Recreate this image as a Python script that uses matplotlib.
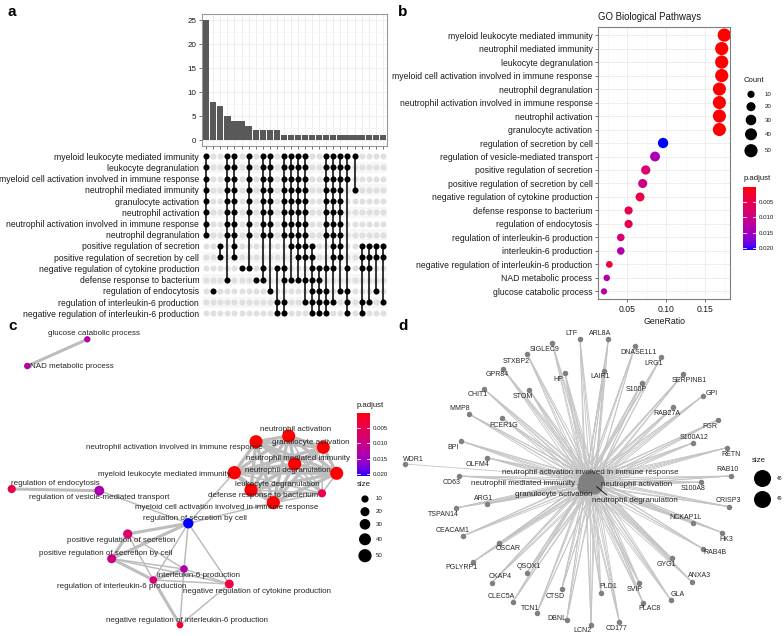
import numpy as np
import matplotlib
matplotlib.use("Agg")
import matplotlib.pyplot as plt
from matplotlib.colors import ListedColormap, Normalize
from matplotlib.collections import LineCollection

plt.rcParams['font.family'] = ['Liberation Sans', 'DejaVu Sans']

W, H = 784, 636
fig = plt.figure(figsize=(W / 100, H / 100), dpi=100)


def box(x0, y0, x1, y1):
    return fig.add_axes([x0 / W, 1 - y1 / H, (x1 - x0) / W, (y1 - y0) / H])


# ---------------- data ----------------
# panel a : upset of gene overlap
upset_terms = ["myeloid leukocyte mediated immunity", "leukocyte degranulation",
               "myeloid cell activation involved in immune response", "neutrophil mediated immunity",
               "granulocyte activation", "neutrophil activation",
               "neutrophil activation involved in immune response", "neutrophil degranulation",
               "positive regulation of secretion", "positive regulation of secretion by cell",
               "negative regulation of cytokine production", "defense response to bacterium",
               "regulation of endocytosis", "regulation of interleukin-6 production",
               "negative regulation of interleukin-6 production"]
inter_size = [25, 8, 7, 5, 4, 4, 3, 2, 2, 2, 2, 1, 1, 1, 1, 1, 1, 1, 1, 1, 1, 1, 1, 1, 1, 1]
IMM = [0, 1, 2, 3, 4, 5, 6, 7]
inter_sets = [IMM, [12], [8, 9], IMM + [11], IMM + [8, 9], [10], IMM + [10], [11],
              IMM + [10, 11], IMM + [12], [10, 13, 14], IMM + [10, 11, 13, 14],
              IMM + [8, 11], IMM + [8, 9, 11], IMM + [8, 9, 11, 13],
              [8, 9, 10, 11, 12, 13, 14], [10, 11, 12, 13, 14], IMM + [10, 12, 13, 14],
              IMM + [8, 9, 10, 13], IMM + [8, 9, 12], [0, 1, 2, 10, 12, 13, 14], [0, 3],
              [8, 9, 10, 13, 14], [8, 9, 10, 13], [8, 9, 12], [8, 9, 13]]

# panel b : dotplot
go_terms = ["myeloid leukocyte mediated immunity", "neutrophil mediated immunity",
            "leukocyte degranulation", "myeloid cell activation involved in immune response",
            "neutrophil degranulation", "neutrophil activation involved in immune response",
            "neutrophil activation", "granulocyte activation", "regulation of secretion by cell",
            "regulation of vesicle-mediated transport", "positive regulation of secretion",
            "positive regulation of secretion by cell", "negative regulation of cytokine production",
            "defense response to bacterium", "regulation of endocytosis",
            "regulation of interleukin-6 production", "interleukin-6 production",
            "negative regulation of interleukin-6 production", "NAD metabolic process",
            "glucose catabolic process"]
gene_ratio = [0.1747, 0.1714, 0.1714, 0.1714, 0.1684, 0.1684, 0.1684, 0.1684, 0.0962, 0.0859,
              0.0740, 0.0701, 0.0667, 0.0520, 0.0520, 0.0420, 0.0420, 0.0273, 0.0240, 0.0205]
go_count = [51, 50, 50, 50, 49, 49, 49, 49, 28, 25, 21, 20, 19, 15, 15, 12, 12, 8, 7, 6]
go_padj = [1e-6, 1e-6, 1e-6, 1e-6, 2e-6, 2e-6, 2e-6, 2e-6, 0.0206, 0.0140, 0.0075, 0.0100,
           0.0040, 0.0050, 0.0045, 0.0085, 0.0135, 0.0030, 0.0130, 0.0130]
count_breaks = [10, 20, 30, 40, 50]
padj_breaks = [0.005, 0.010, 0.015, 0.020]

# panel c : enrichment map layout (node, label)
c_node_x = [234.3, 288.7, 251.0, 273.3, 336.7, 323.3, 256.0, 294.7, 188.3, 99.3,
            127.7, 111.7, 229.3, 322.0, 11.7, 153.3, 184.0, 180.0, 27.3, 87.3]
c_node_y = [472.7, 436.0, 490.0, 502.7, 473.3, 447.3, 441.7, 464.0, 523.3, 490.7,
            534.0, 558.7, 584.0, 493.3, 489.0, 580.0, 569.0, 625.0, 366.0, 339.3]
c_node_term = ["myeloid leukocyte mediated immunity", "neutrophil activation",
               "leukocyte degranulation", "myeloid cell activation involved in immune response",
               "neutrophil degranulation", "granulocyte activation",
               "neutrophil activation involved in immune response", "neutrophil mediated immunity",
               "regulation of secretion by cell", "regulation of vesicle-mediated transport",
               "positive regulation of secretion", "positive regulation of secretion by cell",
               "negative regulation of cytokine production", "defense response to bacterium",
               "regulation of endocytosis", "regulation of interleukin-6 production",
               "interleukin-6 production", "negative regulation of interleukin-6 production",
               "NAD metabolic process", "glucose catabolic process"]
c_lab_x = [164.2, 295.2, 277.5, 227.0, 287.5, 310.8, 174.7, 297.5, 195.0, 98.7,
           120.8, 106.0, 256.8, 263.3, 55.8, 121.7, 198.3, 187.2, 72.3, 93.8]
c_lab_y = [474.0, 429.3, 484.0, 507.3, 471.0, 442.7, 447.7, 458.3, 518.3, 497.3,
           540.0, 553.7, 591.7, 495.3, 483.3, 586.0, 575.7, 620.0, 366.7, 333.3]
# edges: (node i, node j, thick)
c_edges = [(18, 19, 1), (14, 9, 1), (9, 8, 0), (8, 0, 0), (8, 3, 0), (8, 10, 1), (8, 11, 1),
           (8, 12, 0), (8, 16, 0), (8, 15, 0), (10, 11, 1), (10, 15, 0), (10, 16, 0),
           (11, 15, 1), (11, 16, 0), (11, 12, 0), (15, 16, 1), (15, 12, 0), (15, 17, 1),
           (16, 17, 0), (16, 12, 0), (12, 17, 0)]

# panel d : gene-concept network
d_terms = ["neutrophil activation involved in immune response", "neutrophil mediated immunity",
           "neutrophil activation", "granulocyte activation", "neutrophil degranulation"]
d_term_size = [49, 49, 48, 49, 49]
d_term_x = [590.0, 586.0, 596.0, 585.0, 594.0]
d_term_y = [478.0, 481.0, 481.0, 486.0, 486.0]
d_term_lx = [590.0, 523.3, 636.7, 553.3, 635.0]
d_term_ly = [472.7, 483.3, 484.3, 494.3, 500.7]
d_genes = ["LTF", "ARL8A", "SIGLEC9", "DNASE1L1", "LRG1", "STXBP2", "HP", "LAIR1", "GPR84",
           "SERPINB1", "S100P", "CHIT1", "STOM", "GPI", "MMP8", "RAB27A", "FCER1G", "FGR",
           "S100A12", "BPI", "RETN", "OLFM4", "WDR1", "RAB10", "CD63", "S100A8", "CRISP3",
           "ARG1", "TSPAN14", "NCKAP1L", "CEACAM1", "HK3", "OSCAR", "RAB4B", "GYG1", "PGLYRP1",
           "QSOX1", "ANXA3", "CKAP4", "CTSD", "PLD1", "SVIP", "GLA", "CLEC5A", "TCN1", "PLAC8",
           "DBNL", "CD177", "LCN2"]
d_gx = [580.0, 608.3, 552.3, 635.0, 661.0, 527.3, 565.0, 604.0, 503.3, 683.3, 641.7, 484.3,
        529.3, 702.7, 469.0, 673.3, 502.3, 717.7, 693.3, 461.0, 726.7, 487.3, 405.0, 731.0,
        459.3, 700.7, 729.0, 486.7, 455.7, 692.7, 462.7, 722.3, 499.3, 703.3, 671.7, 473.3,
        526.7, 691.7, 491.7, 561.7, 601.0, 639.3, 670.7, 512.7, 536.7, 643.3, 566.7, 619.3,
        591.0]
d_gy = [339.3, 339.3, 343.3, 346.0, 357.3, 354.3, 373.3, 371.0, 369.3, 374.3, 382.7, 389.3,
        390.0, 396.0, 414.0, 407.3, 418.3, 420.0, 442.7, 441.0, 447.7, 457.7, 464.0, 476.0,
        476.0, 482.3, 506.7, 504.0, 508.0, 523.3, 536.0, 532.7, 543.3, 549.0, 558.3, 561.7,
        572.7, 581.7, 582.7, 589.3, 593.3, 582.7, 600.0, 602.0, 613.3, 603.3, 620.0, 621.7,
        625.0]
d_lx = [571.7, 600.0, 545.0, 638.3, 653.3, 516.0, 558.3, 600.0, 496.7, 689.0, 636.0, 477.3,
        523.3, 711.7, 459.3, 666.7, 503.3, 710.0, 694.0, 453.3, 731.0, 477.3, 413.3, 727.7,
        451.7, 693.3, 728.3, 483.3, 443.3, 686.0, 452.7, 726.7, 508.3, 715.0, 666.7, 461.7,
        528.3, 700.0, 500.0, 555.0, 608.3, 634.3, 677.3, 501.7, 530.0, 650.0, 556.7, 616.7,
        582.7]
d_ly = [333.3, 333.3, 349.3, 352.7, 363.3, 361.7, 379.3, 376.7, 375.0, 380.7, 389.3, 395.0,
        396.7, 393.3, 408.3, 413.3, 425.7, 426.0, 437.3, 447.3, 454.3, 464.0, 459.3, 469.3,
        482.7, 489.0, 500.0, 498.3, 514.0, 517.3, 531.0, 539.3, 549.0, 552.7, 564.3, 567.7,
        566.7, 575.7, 576.7, 596.0, 586.7, 589.3, 594.3, 596.0, 608.3, 609.0, 618.3, 628.3,
        630.0]
d_size_breaks = [48, 49]


# ---------------- colour scale (red -> blue, Lab interpolation) ----------------
M = np.array([[0.4124, 0.3576, 0.1805], [0.2126, 0.7152, 0.0722], [0.0193, 0.1192, 0.9505]])
WHITE = np.array([0.95047, 1.0, 1.08883])


def to_lab(rgb):
    rgb = np.asarray(rgb, float)
    lin = np.where(rgb > 0.04045, ((rgb + 0.055) / 1.055) ** 2.4, rgb / 12.92)
    xyz = M @ lin / WHITE
    f = np.where(xyz > 0.008856, np.cbrt(xyz), 7.787 * xyz + 16 / 116)
    return np.array([116 * f[1] - 16, 500 * (f[0] - f[1]), 200 * (f[1] - f[2])])


def from_lab(lab):
    fy = (lab[0] + 16) / 116
    f = np.array([fy + lab[1] / 500, fy, fy - lab[2] / 200])
    xyz = np.where(f ** 3 > 0.008856, f ** 3, (f - 16 / 116) / 7.787) * WHITE
    lin = np.clip(np.linalg.solve(M, xyz), 0, 1)
    rgb = np.where(lin > 0.0031308, 1.055 * lin ** (1 / 2.4) - 0.055, 12.92 * lin)
    return np.clip(rgb, 0, 1)


lab_r, lab_b = to_lab([1, 0, 0]), to_lab([0, 0, 1])
cmap = ListedColormap([from_lab(lab_r + t * (lab_b - lab_r)) for t in np.linspace(0, 1, 256)])
norm = Normalize(vmin=min(go_padj), vmax=max(go_padj))
padj_of = dict(zip(go_terms, go_padj))
count_of = dict(zip(go_terms, go_count))


def size_pts(c):
    # marker area (pt^2) from count; diameter^2 in px is linear in count
    return 0.72 ** 2 * (3.05 * np.asarray(c, float) + 21.4)


TXT = '#1a1a1a'
FS = 6.2

# ---------------- panel a ----------------
ncol = len(inter_size)
axb = box(202, 14, 387, 146)
axb.bar(np.arange(ncol), inter_size, width=0.88, color='#595959', zorder=3)
axb.set_xlim(-0.6, ncol - 0.4)
axb.set_ylim(-1.25, 26.25)
axb.set_yticks([0, 5, 10, 15, 20, 25])
axb.set_yticks([2.5, 7.5, 12.5, 17.5, 22.5], minor=True)
axb.set_xticks(np.arange(ncol))
axb.set_xticklabels([])
axb.grid(which='major', color='#ebebeb', lw=0.6, zorder=0)
axb.grid(which='minor', axis='y', color='#f4f4f4', lw=0.4, zorder=0)
axb.tick_params(axis='both', which='major', length=2.5, width=0.5, color='#333333',
                labelsize=5.8, labelcolor=TXT, pad=1.5)
axb.tick_params(which='minor', length=0)
for s in axb.spines.values():
    s.set_color('#999999')
    s.set_linewidth(0.8)

axm = box(202, 150.5, 387, 319)
nrow = len(upset_terms)
for r in range(1, nrow, 2):
    axm.axhspan(r - 0.5, r + 0.5, color='#f7f7f7', lw=0, zorder=0)
gx, gy = np.meshgrid(np.arange(ncol), np.arange(nrow))
axm.scatter(gx.ravel(), gy.ravel(), s=19, color='#e0e0e0', lw=0, zorder=1)
for i, rows in enumerate(inter_sets):
    axm.plot([i, i], [min(rows), max(rows)], color='black', lw=1.1, zorder=2)
    axm.scatter([i] * len(rows), rows, s=19, color='black', lw=0, zorder=3)
axm.set_xlim(-0.6, ncol - 0.4)
axm.set_ylim(nrow - 0.5, -0.5)
axm.set_yticks(np.arange(nrow))
axm.set_yticklabels(upset_terms, fontsize=FS, color=TXT)
axm.set_xticks([])
axm.tick_params(axis='y', length=0, pad=2)
for s in axm.spines.values():
    s.set_visible(False)

# ---------------- panel b ----------------
axd = box(598, 27, 730, 299.5)
yb = np.arange(len(go_terms))
axd.scatter(gene_ratio, yb, s=size_pts(go_count), c=go_padj, cmap=cmap, norm=norm, lw=0, zorder=3)
axd.set_xlim(0.0128, 0.182)
axd.set_ylim(len(go_terms) - 0.4, -0.6)
axd.set_yticks(yb)
axd.set_yticklabels(go_terms, fontsize=FS, color=TXT)
axd.set_xticks([0.05, 0.10, 0.15])
axd.set_xticklabels(['0.05', '0.10', '0.15'])
axd.set_xticks([0.025, 0.075, 0.125, 0.175], minor=True)
axd.grid(which='major', color='#ebebeb', lw=0.6, zorder=0)
axd.grid(which='minor', axis='x', color='#f4f4f4', lw=0.4, zorder=0)
axd.tick_params(which='major', length=2.5, width=0.5, color='#333333', labelsize=FS,
                labelcolor=TXT, pad=1.5)
axd.tick_params(which='minor', length=0)
axd.set_xlabel('GeneRatio', fontsize=6.3, color=TXT, labelpad=2)
axd.set_title('GO Biological Pathways', fontsize=6.9, color=TXT, loc='left', pad=5)
for s in axd.spines.values():
    s.set_color('#7f7f7f')
    s.set_linewidth(0.8)


def colorbar(x0, y0, x1, y1):
    cax = box(x0, y0, x1, y1)
    vmin, vmax = norm.vmin, norm.vmax
    grad = np.linspace(vmin, vmax, 256).reshape(-1, 1)
    cax.imshow(grad, aspect='auto', cmap=cmap, norm=norm, extent=[0, 1, vmax, vmin])
    cax.set_xlim(0, 1)
    cax.set_ylim(vmax, vmin)
    for v in padj_breaks:
        cax.plot([0, 0.2], [v, v], color='white', lw=0.6)
        cax.plot([0.8, 1], [v, v], color='white', lw=0.6)
    cax.yaxis.tick_right()
    cax.set_yticks(padj_breaks)
    cax.set_yticklabels(['%.3f' % v for v in padj_breaks], fontsize=4.4, color=TXT)
    cax.tick_params(length=0, pad=2)
    cax.set_xticks([])
    for s in cax.spines.values():
        s.set_visible(False)


colorbar(743, 187, 756, 249.5)

# ---------------- panel c ----------------
axc = box(0, 318, 390, 636)
axc.set_xlim(0, 390)
axc.set_ylim(636, 318)
axc.axis('off')
segs = [[(c_node_x[i], c_node_y[i]), (c_node_x[j], c_node_y[j])] for i, j, t in c_edges]
lws = [2.2 if t else 1.1 for i, j, t in c_edges]
imm = list(range(9)) + [13]
imm.remove(8)
for a in range(len(imm)):
    for b in range(a + 1, len(imm)):
        i, j = imm[a], imm[b]
        segs.append([(c_node_x[i], c_node_y[i]), (c_node_x[j], c_node_y[j])])
        lws.append(1.2 if 13 in (i, j) else 2.4)
axc.add_collection(LineCollection(segs, colors='#bdbdbd', linewidths=lws, zorder=1))
axc.scatter(c_node_x, c_node_y, s=size_pts([count_of[t] for t in c_node_term]),
            c=[padj_of[t] for t in c_node_term], cmap=cmap, norm=norm, lw=0, zorder=2)
for t, lx, ly in zip(c_node_term, c_lab_x, c_lab_y):
    axc.text(lx, ly, t, fontsize=5.8, color='#262626', ha='center', va='center', zorder=3)

# ---------------- panel d ----------------
axn = box(390, 318, 784, 636)
axn.set_xlim(390, 784)
axn.set_ylim(636, 318)
axn.axis('off')
dsegs = []
for g, x, y in zip(d_genes, d_gx, d_gy):
    targets = [0] if g == 'WDR1' else range(len(d_terms))
    for k in targets:
        dsegs.append([(x, y), (d_term_x[k], d_term_y[k])])
axn.add_collection(LineCollection(dsegs, colors='#c4c4c4', linewidths=0.6, zorder=1))
axn.scatter(d_term_x, d_term_y, s=(0.72 * 16) ** 2, color='#808080', lw=0, zorder=2)
axn.scatter(d_gx, d_gy, s=(0.72 * 5.5) ** 2, color='#808080', lw=0, zorder=2)
axn.plot([d_term_lx[2] - 40, d_term_lx[2] - 30], [486.7, 495], color='black', lw=0.6, zorder=3)
for t, lx, ly in zip(d_terms, d_term_lx, d_term_ly):
    axn.text(lx, ly, t, fontsize=5.8, color='#262626', ha='center', va='center', zorder=4)
for g, lx, ly in zip(d_genes, d_lx, d_ly):
    axn.text(lx, ly, g, fontsize=5.0, color='#262626', ha='center', va='center', zorder=4)

# ---------------- legends / panel letters ----------------
ov = fig.add_axes([0, 0, 1, 1])
ov.set_xlim(0, W)
ov.set_ylim(H, 0)
ov.axis('off')
ov.patch.set_visible(False)

for lab, x, y in [('a', 8, 12), ('b', 398, 12), ('c', 8, 326), ('d', 398, 326)]:
    ov.text(x, y, lab, fontsize=11, fontweight='bold', ha='left', va='center')

# panel b size legend
ov.text(744, 80.7, 'Count', fontsize=5.6, color=TXT, va='center')
leg_b_y = [94.3, 106.7, 120.0, 134.3, 150.7]
ov.scatter([751] * 5, leg_b_y, s=size_pts(count_breaks), color='black', lw=0)
for c, y in zip(count_breaks, leg_b_y):
    ov.text(765, y, str(c), fontsize=4.4, color=TXT, va='center')
ov.text(744, 179, 'p.adjust', fontsize=5.6, color=TXT, va='center')

# panel c legends
ov.text(357, 405.7, 'p.adjust', fontsize=5.6, color=TXT, va='center')
colorbar(357, 412.7, 370, 476)
ov.text(357, 485, 'size', fontsize=5.6, color=TXT, va='center')
leg_c_y = [499.0, 511.7, 524.3, 539.3, 555.7]
ov.scatter([365] * 5, leg_c_y, s=size_pts(count_breaks), color='black', lw=0)
for c, y in zip(count_breaks, leg_c_y):
    ov.text(375.5, y, str(c), fontsize=4.4, color=TXT, va='center')

# panel d legend
ov.text(752, 460, 'size', fontsize=5.6, color=TXT, va='center')
leg_d_y = [478.3, 499.0]
ov.scatter([761.7] * 2, leg_d_y, s=(0.72 * 17) ** 2, color='black', lw=0)
for c, y in zip(d_size_breaks, leg_d_y):
    ov.text(776.5, y, str(c), fontsize=3.5, color=TXT, va='center')

fig.savefig('out.png', dpi=100)
